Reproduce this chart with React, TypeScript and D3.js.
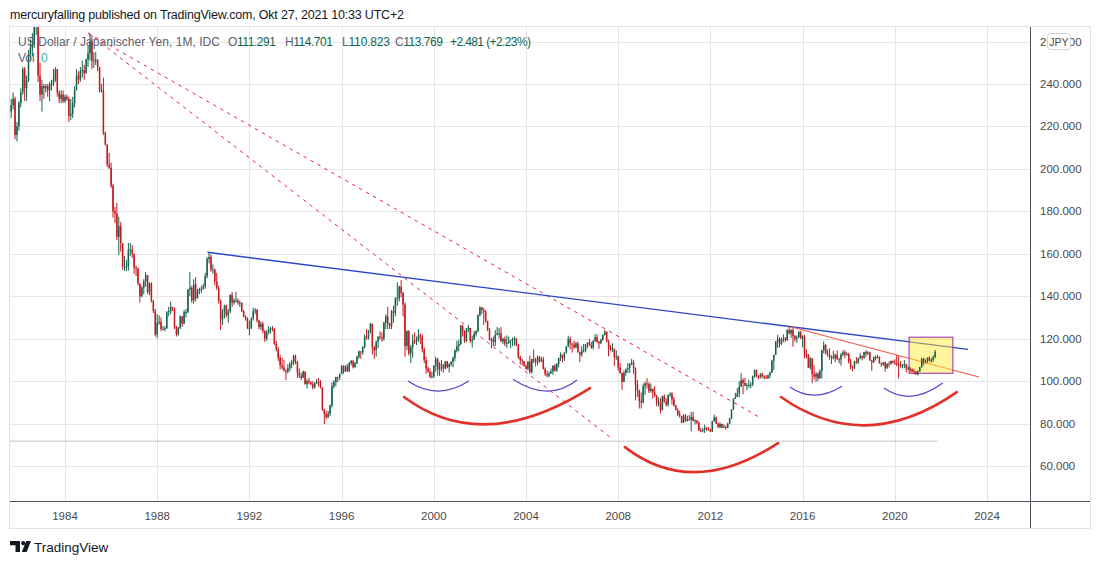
import React from "react";
import * as d3 from "d3";

// ---------------- DATA ----------------
// Monthly USD/JPY candles, starting July 1981 (open of first bar below)
const START_YEAR = 1981;
const START_MONTH = 7; // July
const FIRST_OPEN = 224;

const closes: number[] = [
  239, 227, 230, 233, 216, 220, // 1981 Jul-Dec
  231, 236, 247, 238, 242, 254, 257, 259, 269, 275, 244, 235, // 1982
  239, 238, 239, 237, 240, 240, 242, 247, 236, 233, 235, 232, // 1983
  234, 233, 225, 226, 231, 237, 244, 242, 246, 246.5, 245, 251.5, // 1984
  254.5, 260, 251, 251, 251.5, 248, 237, 237, 217, 211.5, 202, 200.5, // 1985
  192, 180, 179, 168, 173, 165, 154, 154, 154, 162, 162, 160, // 1986
  153.5, 153, 146, 140, 144, 147, 150, 142, 146, 138, 133, 122, // 1987
  127.5, 128, 124.5, 124.5, 125, 132.5, 133, 135, 134.5, 125.5, 122, 125, // 1988
  130.5, 127, 132.5, 132.5, 143, 144, 138, 145.5, 139, 142.5, 143.5, 143.5, // 1989
  144.5, 149.5, 157.5, 158.5, 152.5, 152.5, 147, 144, 138, 129, 133, 135.5, // 1990
  131, 133, 140.5, 137, 138, 138, 137, 137, 133, 130.5, 129.5, 125, // 1991
  125, 129.5, 133, 133.5, 128.5, 125.5, 127, 123.5, 120, 123, 124.5, 124.8, // 1992
  124.5, 117.5, 115, 111, 107.5, 106.5, 105, 104.5, 106, 108, 109, 111.8, // 1993
  109, 104, 102.5, 101.5, 104.5, 98.5, 100, 99.5, 98.5, 97, 99, 99.7, // 1994
  99.5, 97, 86.5, 84.5, 83, 84.5, 88.5, 97.5, 99.5, 102, 101.8, 103.4, // 1995
  107, 104.5, 107, 104.5, 108.5, 109.5, 106.5, 108.5, 111.5, 114, 113.5, 116, // 1996
  121, 120.5, 124, 127, 116, 114.5, 118.5, 121, 120.5, 120, 127.5, 130.5, // 1997
  127, 126, 133, 132, 139, 139, 144.5, 141.5, 136, 116.5, 123.5, 113, // 1998
  116, 119, 118.5, 119.5, 121.5, 121, 115, 110, 106, 104.5, 102, 102.2, // 1999
  107.3, 110.3, 105.5, 108, 107.6, 106, 109.3, 106.6, 108, 109, 111, 114.4, // 2000
  116.4, 117.5, 126.1, 123.5, 118.9, 124.7, 125, 118.9, 119.5, 122.3, 123.5, 131, // 2001
  134.7, 133.5, 132.7, 128.4, 124.3, 119.5, 119.7, 118.4, 121.8, 122.5, 122.5, 118.7, // 2002
  119.9, 117.7, 118, 118.8, 119.3, 119.8, 120.2, 116.8, 111.5, 109.9, 109.5, 107.2, // 2003
  105.8, 109.1, 104.3, 110.4, 109.5, 108.9, 111.3, 109.4, 110.2, 105.8, 103.2, 102.6, // 2004
  103.6, 104.6, 107.2, 104.8, 108.1, 110.9, 112.5, 110.9, 113.5, 116.4, 119.8, 117.8, // 2005
  117.2, 115.9, 117.8, 113.8, 112.4, 114.4, 114.6, 117.4, 118.1, 116.9, 115.8, 119, // 2006
  120.7, 118.5, 117.8, 119.5, 121.7, 123.2, 118.6, 115.8, 114.8, 115.3, 111.2, 111.7, // 2007
  106.4, 103.8, 99.7, 103.9, 105.5, 106.2, 108.1, 108.8, 106, 98.5, 95.5, 90.7, // 2008
  89.9, 97.6, 98.9, 98.6, 95.3, 96.4, 94.7, 93, 89.8, 90, 86.3, 93, // 2009
  90.3, 88.9, 93.5, 94, 91.2, 88.4, 86.4, 84.2, 83.5, 80.4, 83.7, 81.1, // 2010
  82, 81.8, 83.1, 81.2, 81.5, 80.5, 76.7, 76.6, 77, 78.1, 77.6, 76.9, // 2011
  76.2, 81.2, 82.9, 80, 78.3, 79.8, 78.1, 78.4, 77.9, 79.8, 82.5, 86.7, // 2012
  91.7, 92.5, 94.2, 97.4, 100.4, 99.1, 97.9, 98.2, 98.2, 98.4, 102.4, 105.3, // 2013
  102, 101.8, 103.2, 102.3, 101.8, 101.3, 102.8, 104.1, 109.6, 112.3, 118.6, 119.8, // 2014
  117.5, 119.6, 120, 119.4, 124.1, 122.4, 124, 121.2, 119.9, 120.6, 123.1, 120.2, // 2015
  121, 112.7, 112.6, 106.3, 110.7, 103.2, 102.1, 103.4, 101.3, 104.8, 114.5, 117, // 2016
  113.1, 112.8, 111.4, 111.5, 110.8, 112.4, 110.3, 110.2, 112.5, 113.6, 112.5, 112.7, // 2017
  109.2, 106.7, 106.3, 109.3, 108.8, 110.7, 111.9, 111, 113.7, 112.9, 113.5, 109.7, // 2018
  108.9, 111.4, 110.8, 111.4, 108.3, 107.8, 108.8, 106.3, 108.1, 108, 109.5, 108.7, // 2019
  108.4, 107.9, 107.5, 107.2, 107.8, 107.9, 105.9, 105.9, 105.5, 104.7, 104.3, 103.2, // 2020
  104.7, 106.6, 110.7, 109.3, 109.6, 111.1, 109.7, 110, 111.291, 113.769, // 2021 Jan-Oct
];

const highs: number[] = [
  241, 246, 233, 236, 234, 222,
  232, 238, 248, 248, 244, 256, 261, 264, 270, 278, 276, 250,
  242, 240, 240, 240, 241, 242, 247, 248, 247, 237, 237, 237,
  235, 235, 234, 233, 234, 239, 247, 246, 248, 251, 249, 252,
  258, 263.6, 263, 255, 255, 251.5, 248, 240, 243, 217.5, 209, 207.5,
  203, 193, 182, 184, 177.5, 175, 165, 159, 157, 165, 165, 164,
  160, 154.5, 153.5, 146, 145, 148, 151.5, 150, 146.5, 146.5, 138, 134,
  131.5, 131, 130, 126, 126, 133, 135, 137.5, 135, 134.5, 126, 125.5,
  131, 130.5, 133.5, 134, 143.5, 151.5, 145, 148, 149, 143.5, 144, 145,
  146, 151, 158.5, 160.4, 159.5, 155, 153, 151, 145, 138.5, 134, 136,
  136, 134, 141, 142, 139, 142, 139, 138, 137, 133.5, 131, 130,
  128.5, 130, 134.5, 134.5, 134, 129, 128, 128, 124, 124, 126, 125.5,
  126, 125, 119, 116, 112.5, 111, 110, 105.5, 108, 109, 110, 112.5,
  112.5, 109.5, 106, 104, 105, 104.5, 101, 101.5, 100, 100, 99.5, 101,
  101.5, 100.5, 97, 87, 86, 86, 89, 99.5, 100.5, 102, 102, 103.5,
  107.5, 107.5, 107.5, 108, 109, 110, 110, 109, 112, 114.5, 114, 116.5,
  122, 124.5, 124, 127.5, 127, 116.5, 119, 121, 123.5, 123, 128, 131.5,
  135, 127.5, 133.5, 135.5, 139.5, 146.5, 145, 147.6, 142, 137, 124, 124,
  117, 122, 123, 121, 124.5, 122.5, 122, 116, 111.5, 107, 106, 104.5,
  107.5, 111.5, 111, 109, 110, 108, 109.5, 109.5, 108.5, 109.5, 111.5, 115,
  119, 119.5, 126.5, 126.5, 124, 125, 126.5, 125, 121.5, 123.5, 124, 131.5,
  135.2, 135, 134.5, 133.5, 128.5, 125, 120.5, 121, 124, 125.5, 125, 125.5,
  120.5, 121, 121.5, 121, 119.5, 120.5, 121, 120, 117.5, 112, 110.5, 109.5,
  107.8, 109.5, 112, 110.5, 114.9, 111, 112, 111.8, 111.5, 111.5, 106.5, 105,
  104.5, 106, 107.5, 108, 108.5, 111, 113.5, 112.5, 113.5, 116.5, 121.4, 121,
  117.5, 119, 118.5, 118.6, 113, 116.5, 117.5, 117.5, 118.3, 119.9, 118.5, 119.3,
  122.2, 122, 119, 120, 122, 124.1, 123.5, 119.5, 117, 117.8, 115, 114.5,
  112, 108.5, 104, 105, 106, 108.5, 108.5, 110.5, 110, 106.5, 100.5, 96,
  94.6, 98.9, 99.7, 101.4, 99.5, 98.9, 96.5, 97.8, 93.5, 92.3, 92, 93,
  93.8, 92, 93.7, 94.7, 94.9, 92.5, 88.9, 87.2, 86, 83.7, 84.5, 84.5,
  83.7, 84, 85.5, 85.5, 82, 81.6, 81, 77.9, 77.8, 79.5, 78.3, 78.3,
  77.5, 81.3, 84.2, 83.3, 80.5, 80.6, 80, 79.6, 79.2, 80.4, 82.8, 86.8,
  91.8, 94.5, 96.7, 99.9, 103.7, 101.4, 101.5, 99.1, 100.6, 99.5, 102.6, 105.4,
  105.4, 102.8, 103.8, 104.1, 102.8, 102.8, 103.1, 104.5, 110.1, 112.5, 118.9, 121.8,
  120.8, 120.5, 122, 120.8, 124.4, 125.86, 124.6, 125.3, 121.7, 121.5, 123.7, 123.7,
  121.6, 121.7, 114.9, 112, 111.4, 110.5, 107.5, 104.3, 104.2, 105.5, 114.8, 118.7,
  117.5, 114.9, 115.5, 112.2, 114.4, 112.9, 114.5, 111, 113.2, 114.4, 114.7, 113.7,
  113.4, 110.5, 107.3, 109.6, 111.4, 111, 113.2, 111.8, 113.8, 114.6, 114.2, 113.8,
  110, 111.5, 112.1, 112.4, 111.7, 108.8, 109, 109.3, 108.5, 109.3, 109.7, 109.7,
  110.3, 112.2, 111.7, 109.4, 108.1, 109.9, 108.2, 107.1, 106.6, 106.1, 105.7, 104.8,
  105, 106.7, 110.97, 110.96, 110.2, 111.1, 111.6, 110.8, 112.07, 114.701,
];

const lows: number[] = [
  223, 226, 224, 228, 214, 213,
  218, 229, 235, 232, 232, 241, 251, 253, 257, 263, 241, 232,
  227, 233, 236, 234, 232, 237, 239, 241, 234, 231, 231, 231,
  231, 232, 222, 223, 224, 229, 237, 240, 241, 243, 242, 245,
  248, 251, 247, 247.6, 249, 246, 236, 236, 216, 211, 201, 200,
  191, 177, 174.5, 166.5, 159.5, 161, 152.5, 152, 152, 152, 159, 158,
  150.5, 149.5, 145, 137, 139.5, 141, 144.5, 141, 140.5, 137, 132, 121,
  120.2, 126.5, 123.5, 124, 123.5, 124.5, 130.5, 131.5, 133, 124.5, 121, 121.5,
  124.5, 125.5, 127, 130, 132, 140, 137, 136.5, 137.5, 139, 141, 141.5,
  143, 143.5, 148.5, 155.5, 151.5, 150.5, 145, 143, 136.5, 124, 126.5, 129.5,
  130, 127.5, 132, 135, 136, 137, 136, 135, 132.5, 130, 128.5, 124.5,
  121.5, 124.5, 128.5, 131.5, 127.5, 124.5, 124, 122.5, 118.5, 119, 122, 122.5,
  123.5, 117, 114, 109.5, 105.5, 105.5, 104.5, 100.5, 103.5, 104.5, 106, 107.5,
  108, 101.5, 101.5, 100.5, 101.5, 98.5, 96.5, 98.5, 98, 96, 96.5, 98.5,
  97.5, 96.5, 86, 79.75, 82, 82.5, 83.5, 87.5, 96.5, 97.5, 99.5, 100.5,
  103.5, 103.5, 104.5, 104.5, 104.5, 107.5, 106, 106.5, 108, 110.5, 110.5, 112.5,
  115.5, 119.5, 119.5, 122.5, 112.5, 110.5, 111.5, 115.5, 119.5, 118.5, 119, 124.5,
  124.5, 124.5, 124.5, 127.5, 130.5, 135.5, 137.5, 139.5, 130.5, 111.5, 114.5, 112,
  108.5, 111, 117.5, 117, 118.5, 117.5, 113.5, 108.5, 103.5, 104, 101.5, 101.3,
  101.5, 104.5, 102.5, 102.5, 104.5, 104, 105.5, 106, 104, 107, 106.5, 109.5,
  113.5, 114, 117, 121, 118, 118.5, 123, 118, 115.8, 119.5, 121, 123,
  130.5, 131.5, 126.5, 127.5, 123.5, 119, 115.5, 116.5, 116.5, 121.5, 120, 118.5,
  117.5, 116.5, 115.5, 117.5, 115.5, 116.5, 116.8, 116.5, 110.5, 107.8, 107.5, 106.8,
  105.5, 105, 103.5, 103.5, 108.5, 106.9, 107.5, 108.5, 109, 105.5, 102.5, 101.8,
  101.7, 103.5, 103, 104.5, 104.5, 106.5, 109.5, 108.8, 109.5, 113, 116, 115,
  113.4, 115.2, 115.5, 113.3, 108.9, 111.5, 113.5, 113.5, 115.5, 116.5, 115.2, 114.9,
  118.5, 118, 115.2, 117.5, 119, 121.5, 118.3, 111.6, 114.3, 113.7, 107.2, 110,
  104.9, 103.5, 95.8, 99.5, 102.5, 103.8, 103.8, 107.5, 103.5, 90.9, 92.5, 87.1,
  87.1, 89.5, 93.5, 96.5, 94.4, 94.5, 91.7, 92.5, 88.2, 88, 84.8, 86.2,
  89.8, 88.1, 88.1, 92.5, 89, 88.1, 86.2, 83.6, 82.8, 80.2, 80.3, 80.9,
  81.5, 81.4, 76.3, 81.1, 79.6, 79.7, 76.6, 75.9, 75.9, 75.6, 76.6, 76.6,
  76, 76.1, 80.9, 79.8, 78, 77.7, 77.8, 78, 77.1, 77.9, 79.7, 82,
  86.5, 91.6, 92.5, 92.5, 97.3, 93.8, 97.6, 95.8, 96.9, 96.6, 97.6, 101.6,
  101.8, 100.8, 101.2, 101.4, 100.8, 101.1, 101, 101.5, 103.8, 105.2, 112.3, 115.6,
  115.8, 116.9, 118.3, 118.5, 118.9, 122, 120.4, 116.2, 118.6, 118.1, 120.4, 119.8,
  115.9, 110.9, 110.7, 106.2, 105.5, 98.98, 100.7, 99.5, 100.1, 101.2, 101.2, 113.1,
  112.5, 111.6, 110.1, 108.1, 110.2, 108.8, 110.1, 108.3, 107.3, 111.7, 110.8, 111.9,
  108.3, 105.6, 104.6, 105.7, 108.1, 108.1, 110.3, 109.8, 110.4, 111.4, 112.3, 109.6,
  104.9, 108.5, 109.7, 110.8, 108.3, 106.8, 107.2, 104.4, 105.7, 106.5, 107.9, 108.4,
  107.7, 107, 101.2, 106.4, 106, 106.1, 104.2, 105.3, 104, 104, 103.2, 102.9,
  102.6, 104.4, 106.4, 107.5, 108.3, 108.6, 109.1, 108.7, 109.1, 110.823,
];

// Axis ticks
const yearTicks = [1984, 1988, 1992, 1996, 2000, 2004, 2008, 2012, 2016, 2020, 2024];
const priceTicks = [60, 80, 100, 120, 140, 160, 180, 200, 220, 240, 260];

// Texts
const headerText = "mercuryfalling published on TradingView.com, Okt 27, 2021 10:33 UTC+2";
const symbolTitle = "US Dollar / Japanischer Yen, 1M, IDC";
const ohlcLabels = ["O", "H", "L", "C"];
const ohlcValues = ["111.291", "114.701", "110.823", "113.769"];
const changeText = "+2.481 (+2.23%)";
const currency = "JPY";

// Drawings (anchors in decimal years, price)
const resistanceLine = [[1990.18, 160.7], [2023.18, 114.95]];
const shortTrendLine = [[2015.53, 125.5], [2023.65, 101.9]];
const dashedLines = [
  [[1985.01, 264.0], [2007.72, 72.97]],
  [[1985.01, 264.0], [2014.22, 82.4]],
];
const dottedLevel = { from: 1981.5, to: 2021.87, price: 71.7 };
const highlightBox = { from: 2020.62, to: 2022.52, top: 120.7, bottom: 103.7 };
const smallArcs = [
  [[1998.875, 100], [2000.18, 95.3], [2001.52, 100]],
  [[2003.43, 100.9], [2004.91, 95.3], [2006.21, 100.5]],
  [[2015.45, 97.2], [2016.53, 93.4], [2017.71, 97.6]],
  [[2019.53, 96.7], [2020.74, 92.9], [2022.08, 99.1]],
];
const bigArcs = [
  [[1998.71, 92.5], [2002.43, 79.7], [2006.78, 96.7]],
  [[2008.29, 68.9], [2011.42, 57.1], [2014.93, 70.8]],
  [[2015.06, 92.5], [2018.79, 79.2], [2022.69, 94.8]],
];

// ---------------- LAYOUT ----------------
const W = 1100;
const H = 564;
const PL = 10, PR = 1030, PT = 27, PB = 501, FB = 528, FR = 1090;

const UP = "#15634d";
const DOWN = "#c8171f";
const GRID = "#e6e6ea";
const AXIS_TXT = "#4a4a4a";
const FONT = "'Liberation Sans', Arial, sans-serif";

export default function App() {
  const x = d3.scaleLinear().domain([1984, 2024]).range([65, 987]);
  const y = d3.scaleLinear().domain([60, 240]).range([466, 84]);

  const bars = closes.map((c, k) => {
    const open = k === 0 ? FIRST_OPEN : closes[k - 1];
    const hi = Math.max(highs[k], open, c);
    const lo = Math.min(lows[k], open, c);
    const t = START_YEAR + (START_MONTH - 1 + k) / 12;
    return { t, open, close: c, high: hi, low: lo };
  });

  const arcPath = (pts: number[][]) => {
    const [s, m, e] = pts.map(([t, p]) => [x(t), y(p)]);
    const cx = 2 * m[0] - (s[0] + e[0]) / 2;
    const cy = 2 * m[1] - (s[1] + e[1]) / 2;
    const p = d3.path();
    p.moveTo(s[0], s[1]);
    p.quadraticCurveTo(cx, cy, e[0], e[1]);
    return p.toString();
  };

  const ohlcX = [228, 285, 342, 395];

  return (
    <svg
      width={W}
      height={H}
      viewBox={`0 0 ${W} ${H}`}
      style={{ position: "absolute", left: 0, top: 0, background: "#fff" }}
      fontFamily={FONT}
    >
      <defs>
        <clipPath id="plot">
          <rect x={PL} y={PT} width={PR - PL} height={PB - PT} />
        </clipPath>
      </defs>
      <rect x={0} y={0} width={W} height={H} fill="#fff" />

      {/* header */}
      <text x={10} y={19} fontSize={12.5} fill="#131722" textLength={394} lengthAdjust="spacing">
        {headerText}
      </text>

      {/* frame */}
      <rect x={PL - 0.5} y={PT - 0.5} width={FR - PL + 1} height={FB - PT + 1} fill="none" stroke="#e0e3eb" />

      {/* grid */}
      <g clipPath="url(#plot)">
        {priceTicks.map((p) => (
          <line key={"h" + p} x1={PL} x2={PR} y1={Math.round(y(p)) + 0.5} y2={Math.round(y(p)) + 0.5} stroke={GRID} />
        ))}
        {yearTicks.map((yr) => (
          <line key={"v" + yr} x1={Math.round(x(yr)) + 0.5} x2={Math.round(x(yr)) + 0.5} y1={PT} y2={PB} stroke={GRID} />
        ))}
      </g>

      <g clipPath="url(#plot)">
        {/* dashed trend lines */}
        {dashedLines.map((l, i) => (
          <line
            key={"d" + i}
            x1={x(l[0][0])}
            y1={y(l[0][1])}
            x2={x(l[1][0])}
            y2={y(l[1][1])}
            stroke="#e91e63"
            strokeWidth={1}
            strokeDasharray="3.5 4.5"
          />
        ))}
        {/* dotted level */}
        <line x1={x(dottedLevel.from)} x2={x(dottedLevel.to)} y1={y(dottedLevel.price)} y2={y(dottedLevel.price)}
          stroke="#26a69a" strokeWidth={1} strokeDasharray="1 3" />
        <line x1={x(dottedLevel.from) + 2} x2={x(dottedLevel.to)} y1={y(dottedLevel.price)} y2={y(dottedLevel.price)}
          stroke="#f06292" strokeWidth={1} strokeDasharray="1 3" />

        {/* trend lines */}
        <line x1={x(resistanceLine[0][0])} y1={y(resistanceLine[0][1])} x2={x(resistanceLine[1][0])} y2={y(resistanceLine[1][1])}
          stroke="#2a45c6" strokeWidth={1.4} />
        <line x1={x(shortTrendLine[0][0])} y1={y(shortTrendLine[0][1])} x2={x(shortTrendLine[1][0])} y2={y(shortTrendLine[1][1])}
          stroke="#f5584c" strokeWidth={1.1} />

        {/* highlight box */}
        <rect
          x={x(highlightBox.from)}
          y={y(highlightBox.top)}
          width={x(highlightBox.to) - x(highlightBox.from)}
          height={y(highlightBox.bottom) - y(highlightBox.top)}
          fill="rgba(255, 235, 59, 0.5)"
          stroke="#9c27b0"
          strokeWidth={1}
        />

        {/* candles */}
        {bars.map((b, i) => {
          const col = b.close >= b.open ? UP : DOWN;
          const cx = x(b.t);
          const top = y(Math.max(b.open, b.close));
          const bot = y(Math.min(b.open, b.close));
          return (
            <g key={"c" + i}>
              <line x1={cx} x2={cx} y1={y(b.high)} y2={y(b.low)} stroke={col} strokeWidth={1} />
              <rect x={cx - 0.75} y={top} width={1.5} height={Math.max(1, bot - top)} fill={col} />
            </g>
          );
        })}

        {/* arcs */}
        {smallArcs.map((a, i) => (
          <path key={"sa" + i} d={arcPath(a)} fill="none" stroke="#5447cf" strokeWidth={1.2} />
        ))}
        {bigArcs.map((a, i) => (
          <path key={"ba" + i} d={arcPath(a)} fill="none" stroke="#e2302a" strokeWidth={2.6} strokeLinecap="round" />
        ))}
      </g>

      {/* legend */}
      <text x={18} y={46} fontSize={12} fill="#5d606b" textLength={202} lengthAdjust="spacing">
        {symbolTitle}
      </text>
      {ohlcLabels.map((l, i) => (
        <text key={"lg" + i} x={ohlcX[i]} y={46} fontSize={12} textLength={48} lengthAdjust="spacing">
          <tspan fill="#5d606b">{l}</tspan>
          <tspan fill="#11654f">{ohlcValues[i]}</tspan>
        </text>
      ))}
      <text x={450} y={46} fontSize={12} fill="#11654f" textLength={81} lengthAdjust="spacing">
        {changeText}
      </text>
      <text x={18} y={62} fontSize={12} fill="#5d606b">Vol</text>
      <text x={41} y={62} fontSize={12} fill="#3fb5a0">0</text>

      {/* axes */}
      <line x1={PL} x2={FR} y1={PB + 0.5} y2={PB + 0.5} stroke="#50535e" />
      <line x1={PR + 0.5} x2={PR + 0.5} y1={PT} y2={FB} stroke="#50535e" />

      {priceTicks.map((p) => (
        <text key={"pl" + p} x={1040} y={y(p)} dy="0.35em" fontSize={11.5} fill={AXIS_TXT}>
          {d3.format(".3f")(p)}
        </text>
      ))}
      {yearTicks.map((yr) => (
        <text key={"yl" + yr} x={x(yr)} y={520} textAnchor="middle" fontSize={11.5} fill={AXIS_TXT}>
          {yr}
        </text>
      ))}

      {/* currency badge */}
      <rect x={1047.5} y={33.5} width={23} height={16} rx={3} fill="#fff" stroke="#d1d4dc" />
      <text x={1059} y={42} dy="0.35em" textAnchor="middle" fontSize={10.5} fill="#4a4a4a">
        {currency}
      </text>

      {/* footer logo */}
      <g fill="#131722">
        <path d="M10,541 H20 V552 H15.5 V545.2 H10 Z" />
        <circle cx={23.2} cy={543.2} r={2.1} />
        <path d="M26.2,541 H31 L26.6,552 H21.8 Z" />
      </g>
      <text x={34} y={552} fontSize={13.5} fill="#131722">TradingView</text>
    </svg>
  );
}
